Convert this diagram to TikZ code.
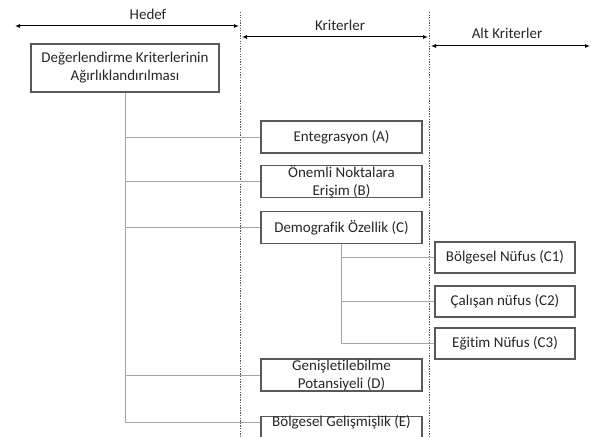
\documentclass[tikz,border=0pt]{standalone}
\usepackage{fontspec}
\setmainfont{Carlito}[Ligatures={NoCommon}]
\usetikzlibrary{arrows.meta}
\definecolor{kutugri}{HTML}{595959}
\definecolor{cizgigri}{HTML}{A6A6A6}
\definecolor{yazigri}{HTML}{262626}

\begin{document}
\begin{tikzpicture}[x=1pt,y=-1pt,
        kutu/.style={shape=rectangle,draw=kutugri,line width=1.1pt,inner sep=0pt,align=center,text=yazigri,font=\fontsize{15}{18}\selectfont},
        kriter/.style={kutu,minimum width=161,minimum height=32},
        altkriter/.style={kutu,minimum width=140,minimum height=31},
        etiket/.style={font=\fontsize{15}{18}\selectfont,text=yazigri,inner sep=0pt},
        baglanti/.style={draw=cizgigri,line width=0.8pt},
        ayrac/.style={draw=kutugri,line width=0.9pt,dash pattern=on 1.3pt off 1.3pt},
        ok/.style={draw=black,line width=1pt,{Latex[length=5pt,width=4pt]}-{Latex[length=5pt,width=4pt]}}]
        \path[use as bounding box] (0,0) rectangle (591,436);
        \clip (0,0) rectangle (591,436);

        % basliklar
        \node[etiket] (lhedef)  at (148,14) {Hedef};
        \node[etiket] (lkriter) at (340,25) {Kriterler};
        \node[etiket] (lalt)    at (507,33) {Alt Kriterler};

        \coordinate (h1) at (15,26);   \coordinate (h2) at (239,26);
        \coordinate (k1) at (242,37);  \coordinate (k2) at (428,37);
        \coordinate (a1) at (431,46);  \coordinate (a2) at (590,46);
        \coordinate (s1u) at (240.5,12); \coordinate (s1a) at (240.5,436);
        \coordinate (s2u) at (429.5,12); \coordinate (s2a) at (429.5,436);

        \path[ok] (h1) -- (h2);
        \path[ok] (k1) -- (k2);
        \path[ok] (a1) -- (a2);
        \path[ayrac] (s1u) -- (s1a);
        \path[ayrac] (s2u) -- (s2a);

        % kutular
        \node[kutu,minimum width=188,minimum height=48] (hedef) at (125,68) {Değerlendirme Kriterlerinin\\Ağırlıklandırılması};
        \node[kriter] (A) at (341.5,137)   {Entegrasyon (A)};
        \node[kriter] (B) at (341.5,181.5) {Önemli Noktalara\\Erişim (B)};
        \node[kriter] (C) at (341.5,227.5) {Demografik Özellik (C)};
        \node[kriter] (D) at (341.5,375)   {Genişletilebilme\\Potansiyeli (D)};
        \node[kriter,anchor=north,text height=10pt,text depth=22pt] (E) at (341.5,416) {Bölgesel Gelişmişlik (E)};
        \node[altkriter] (C1) at (505,257.5) {Bölgesel Nüfus (C1)};
        \node[altkriter] (C2) at (505,301.5) {Çalışan nüfus (C2)};
        \node[altkriter] (C3) at (505,343.5) {Eğitim Nüfus (C3)};

        \coordinate (govde) at (125,422);

        \path[baglanti] (hedef.south) -- (govde) -- (govde -| E.west);
        \path[baglanti] (hedef.south |- A.west) -- (A.west);
        \path[baglanti] (hedef.south |- B.west) -- (B.west);
        \path[baglanti] (hedef.south |- C.west) -- (C.west);
        \path[baglanti] (hedef.south |- D.west) -- (D.west);
        \path[baglanti] (C.south) -- (C.south |- C3.west) -- (C3.west);
        \path[baglanti] (C.south |- C1.west) -- (C1.west);
        \path[baglanti] (C.south |- C2.west) -- (C2.west);
\end{tikzpicture}
\end{document}
